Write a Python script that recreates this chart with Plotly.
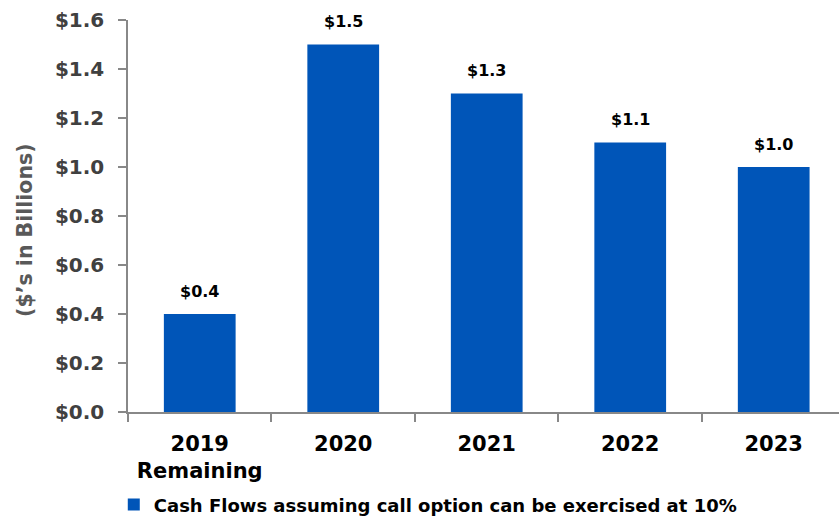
import plotly.graph_objects as go

categories = ["2019<br>Remaining", "2020", "2021", "2022", "2023"]
values = [0.4, 1.5, 1.3, 1.1, 1.0]
labels = ["$0.4", "$1.5", "$1.3", "$1.1", "$1.0"]
series_name = "Cash Flows assuming call option can be exercised at 10%"
y_ticks = [0.0, 0.2, 0.4, 0.6, 0.8, 1.0, 1.2, 1.4, 1.6]
y_tick_text = ["$0.0", "$0.2", "$0.4", "$0.6", "$0.8", "$1.0", "$1.2", "$1.4", "$1.6"]

BAR = "#0055B8"
FONT = "DejaVu Sans, Liberation Sans, Arial, sans-serif"

fig = go.Figure()
fig.add_trace(go.Bar(
    x=list(range(len(categories))), y=values, name="<b>%s</b>" % series_name,
    marker=dict(color=BAR, line=dict(width=0)),
    width=0.5, showlegend=True,
))

for i, (v, t) in enumerate(zip(values, labels)):
    fig.add_annotation(x=i, y=v, text="<b>%s</b>" % t, showarrow=False,
                       yanchor="middle", yshift=23,
                       font=dict(family=FONT, size=16, color="#000000"))

fig.add_annotation(xref="paper", yref="paper", x=-0.1446, y=0.465,
                   text="<b>($\u2019s in Billions)</b>", textangle=-90,
                   showarrow=False, xanchor="center", yanchor="middle",
                   font=dict(family=FONT, size=20.5, color="#595959"))

fig.update_layout(
    width=839, height=518,
    margin=dict(l=128, r=0, t=19.5, b=106, pad=0, autoexpand=False),
    paper_bgcolor="white", plot_bgcolor="white",
    font=dict(family=FONT),
    showlegend=True,
    legend=dict(orientation="h", x=-0.02, y=-0.237, xanchor="left", yanchor="middle",
                font=dict(family=FONT, size=18, color="#000000"),
                itemwidth=30, bgcolor="rgba(0,0,0,0)"),
    xaxis=dict(
        type="linear", range=[-0.5, 4.455],
        tickvals=list(range(len(categories))),
        ticktext=["<b>%s</b>" % c for c in categories],
        showline=True, linecolor="#888888", linewidth=1.5,
        ticks="", showgrid=False, zeroline=False, ticklabelstandoff=12,
        tickfont=dict(family=FONT, size=21, color="#000000"),
        minor=dict(tickvals=[i - 0.5 for i in range(len(categories))] + [len(categories) - 0.5],
                   ticks="outside", ticklen=8, tickcolor="#888888", tickwidth=1.5, showgrid=False),
    ),
    yaxis=dict(
        range=[0, 1.6], tickvals=y_ticks, ticktext=y_tick_text,
        showline=True, linecolor="#888888", linewidth=1.5,
        ticks="outside", ticklen=8, tickcolor="#888888", tickwidth=1.5,
        showgrid=False, zeroline=False, ticklabelstandoff=10,
        tickfont=dict(family=FONT, size=20, color="#404040", weight="bold"),
    ),
)

fig.write_html("out.html")
